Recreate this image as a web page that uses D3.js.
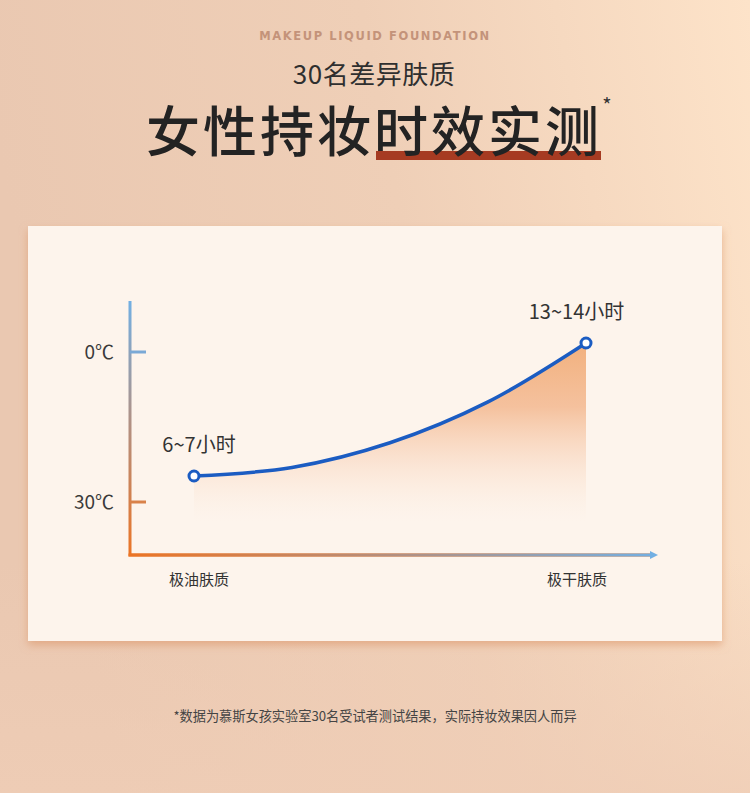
<!DOCTYPE html>
<html>
<head>
<meta charset="utf-8">
<script src="https://cdn.jsdelivr.net/npm/d3@7"></script>
<style>
  html, body { margin: 0; padding: 0; }
  body { width: 750px; height: 793px; overflow: hidden; }
  text { font-family: "Noto Sans CJK SC", "Noto Sans", sans-serif; }
</style>
</head>
<body>
<script>
//chart values
var skinTypes = ["极油肤质", "极干肤质"];       //x axis ends
var tempTicks = [0, 30];                       //y axis tick values
var tempLabels = ["0℃", "30℃"];
var curveX = [0, 0.25, 0.5, 0.75, 1];             //position between oily and dry skin
var curveHours = [6.5, 6.95, 8.25, 10.4, 13.5];   //wear time along the curve
var endLabels = ["6~7小时", "13~14小时"];

var width = 750, height = 793;

var svg = d3.select("body")
    .append("svg")
    .attr("width", width)
    .attr("height", height);

var defs = svg.append("defs");

//page background
var bg = defs.append("linearGradient")
    .attr("id", "bg")
    .attr("x1", 0).attr("y1", 0.2).attr("x2", 1).attr("y2", 0);
bg.append("stop").attr("offset", 0).attr("stop-color", "#eac8b1");
bg.append("stop").attr("offset", 0.5).attr("stop-color", "#efcfb7");
bg.append("stop").attr("offset", 1).attr("stop-color", "#fde3c9");

var bg2 = defs.append("linearGradient")
    .attr("id", "bg2")
    .attr("x1", 0).attr("y1", 0).attr("x2", 0).attr("y2", 1);
bg2.append("stop").attr("offset", 0).attr("stop-color", "#efcdb6").attr("stop-opacity", 0);
bg2.append("stop").attr("offset", 1).attr("stop-color", "#efcdb6").attr("stop-opacity", 0.8);

svg.append("rect").attr("width", width).attr("height", height).attr("fill", "url(#bg)");
svg.append("rect").attr("y", 560).attr("width", width).attr("height", 233).attr("fill", "url(#bg2)");

//header
svg.append("text")
    .attr("x", 375).attr("y", 40)
    .attr("text-anchor", "middle")
    .attr("font-size", 11.5)
    .attr("font-weight", 700)
    .attr("letter-spacing", 1.6)
    .attr("fill", "#c4937a")
    .style("font-family", "'DejaVu Sans', sans-serif")
    .text("MAKEUP LIQUID FOUNDATION");

svg.append("text")
    .attr("x", 374).attr("y", 84)
    .attr("text-anchor", "middle")
    .attr("font-size", 26)
    .attr("letter-spacing", 0.5)
    .attr("fill", "#2f2f2f")
    .text("30名差异肤质");

//underline behind the last four characters
svg.append("rect")
    .attr("x", 376).attr("y", 151)
    .attr("width", 225).attr("height", 9)
    .attr("fill", "#a63b22");

svg.append("text")
    .attr("x", 374).attr("y", 152)
    .attr("text-anchor", "middle")
    .attr("font-size", 54)
    .attr("font-weight", 500)
    .attr("letter-spacing", 3)
    .attr("fill", "#232323")
    .text("女性持妆时效实测");

svg.append("text")
    .attr("x", 607).attr("y", 113)
    .attr("text-anchor", "middle")
    .attr("font-size", 20)
    .attr("fill", "#333")
    .text("*");

//card with soft shadow
var shadow = defs.append("filter")
    .attr("id", "shadow")
    .attr("x", -0.1).attr("y", -0.1).attr("width", 1.2).attr("height", 1.2);
shadow.append("feDropShadow")
    .attr("dx", 0).attr("dy", 4)
    .attr("stdDeviation", 4)
    .attr("flood-color", "#d98f5e")
    .attr("flood-opacity", 0.55);

svg.append("rect")
    .attr("x", 28).attr("y", 226)
    .attr("width", 694).attr("height", 415)
    .attr("fill", "#fdf4ec")
    .attr("filter", "url(#shadow)");

//scales
var xScale = d3.scaleLinear().domain([0, 1]).range([194, 586]);
var yHours = d3.scaleLinear().domain([6.5, 13.5]).range([476, 343]);
var yTemp = d3.scaleLinear().domain([0, 30]).range([352, 502]);

var axisX = 130, axisY = 555, axisTop = 301, axisRight = 652;

//axis gradients
var gy = defs.append("linearGradient")
    .attr("id", "gy").attr("gradientUnits", "userSpaceOnUse")
    .attr("x1", 0).attr("y1", axisTop).attr("x2", 0).attr("y2", axisY);
gy.append("stop").attr("offset", 0).attr("stop-color", "#72afe3");
gy.append("stop").attr("offset", 0.5).attr("stop-color", "#b38f80");
gy.append("stop").attr("offset", 1).attr("stop-color", "#eb7425");

var gx = defs.append("linearGradient")
    .attr("id", "gx").attr("gradientUnits", "userSpaceOnUse")
    .attr("x1", axisX).attr("y1", 0).attr("x2", axisRight + 6).attr("y2", 0);
gx.append("stop").attr("offset", 0).attr("stop-color", "#eb7425");
gx.append("stop").attr("offset", 0.5).attr("stop-color", "#b38f80");
gx.append("stop").attr("offset", 1).attr("stop-color", "#72afe3");

var chart = svg.append("g");

chart.append("path")
    .attr("d", "M" + axisX + "," + axisTop + "V" + axisY + "H" + axisRight)
    .attr("fill", "none")
    .attr("stroke", "url(#gy)")
    .attr("stroke-width", 3);
//redraw x axis with its own gradient
chart.append("line")
    .attr("x1", axisX - 1.5).attr("y1", axisY)
    .attr("x2", axisRight).attr("y2", axisY)
    .attr("stroke", "url(#gx)")
    .attr("stroke-width", 3);
chart.append("path")
    .attr("d", "M" + (axisRight - 2) + "," + (axisY - 4) + "L" + (axisRight + 6) + "," + axisY + "L" + (axisRight - 2) + "," + (axisY + 4) + "Z")
    .attr("fill", "#72afe3");

//y ticks
chart.selectAll(".tick")
    .data(tempTicks)
    .enter()
    .append("line")
    .attr("x1", axisX).attr("x2", axisX + 16)
    .attr("y1", function(d){ return yTemp(d); })
    .attr("y2", function(d){ return yTemp(d); })
    .attr("stroke", function(d){ return d3.interpolateRgb("#7aa9d6", "#d9824a")(d / 30); })
    .attr("stroke-width", 3);

chart.selectAll(".tickLabel")
    .data(tempTicks)
    .enter()
    .append("text")
    .attr("x", 114)
    .attr("y", function(d){ return yTemp(d) + 7; })
    .attr("text-anchor", "end")
    .attr("font-size", 19)
    .attr("fill", "#3a3a3a")
    .text(function(d, i){ return tempLabels[i]; });

//x labels
chart.selectAll(".xLabel")
    .data(skinTypes)
    .enter()
    .append("text")
    .attr("x", function(d, i){ return xScale(i) + (i ? -9 : 5); })
    .attr("y", 585)
    .attr("text-anchor", "middle")
    .attr("font-size", 15)
    .attr("fill", "#333")
    .text(function(d){ return d; });

//area under curve
var ga = defs.append("linearGradient")
    .attr("id", "ga").attr("gradientUnits", "userSpaceOnUse")
    .attr("x1", 0).attr("y1", 345).attr("x2", 0).attr("y2", 522);
ga.append("stop").attr("offset", 0).attr("stop-color", "#f0a56b").attr("stop-opacity", 0.85);
ga.append("stop").attr("offset", 0.35).attr("stop-color", "#f2b083").attr("stop-opacity", 0.75);
ga.append("stop").attr("offset", 1).attr("stop-color", "#fbe6d6").attr("stop-opacity", 0);

var pts = curveX.map(function(d, i){ return [d, curveHours[i]]; });

var area = d3.area()
    .x(function(d){ return xScale(d[0]); })
    .y0(522)
    .y1(function(d){ return yHours(d[1]); })
    .curve(d3.curveCatmullRom);

chart.append("path")
    .datum(pts)
    .attr("d", area)
    .attr("fill", "url(#ga)");

var line = d3.line()
    .x(function(d){ return xScale(d[0]); })
    .y(function(d){ return yHours(d[1]); })
    .curve(d3.curveCatmullRom);

chart.append("path")
    .datum(pts)
    .attr("d", line)
    .attr("fill", "none")
    .attr("stroke", "#1b5cc2")
    .attr("stroke-width", 3.5);

//end points
var ends = [pts[0], pts[pts.length - 1]];
chart.selectAll(".dot")
    .data(ends)
    .enter()
    .append("circle")
    .attr("cx", function(d){ return xScale(d[0]); })
    .attr("cy", function(d){ return yHours(d[1]); })
    .attr("r", 5)
    .attr("fill", "#fff")
    .attr("stroke", "#1b5cc2")
    .attr("stroke-width", 3);

chart.selectAll(".endLabel")
    .data(ends)
    .enter()
    .append("text")
    .attr("x", function(d, i){ return xScale(d[0]) + (i ? -9.5 : 5); })
    .attr("y", function(d){ return yHours(d[1]) - 24; })
    .attr("text-anchor", "middle")
    .attr("font-size", 20)
    .attr("fill", "#333")
    .text(function(d, i){ return endLabels[i]; });

//footnote
svg.append("text")
    .attr("x", 375).attr("y", 721)
    .attr("text-anchor", "middle")
    .attr("font-size", 13.2)
    .attr("fill", "#444")
    .text("*数据为慕斯女孩实验室30名受试者测试结果，实际持妆效果因人而异");
</script>
</body>
</html>
